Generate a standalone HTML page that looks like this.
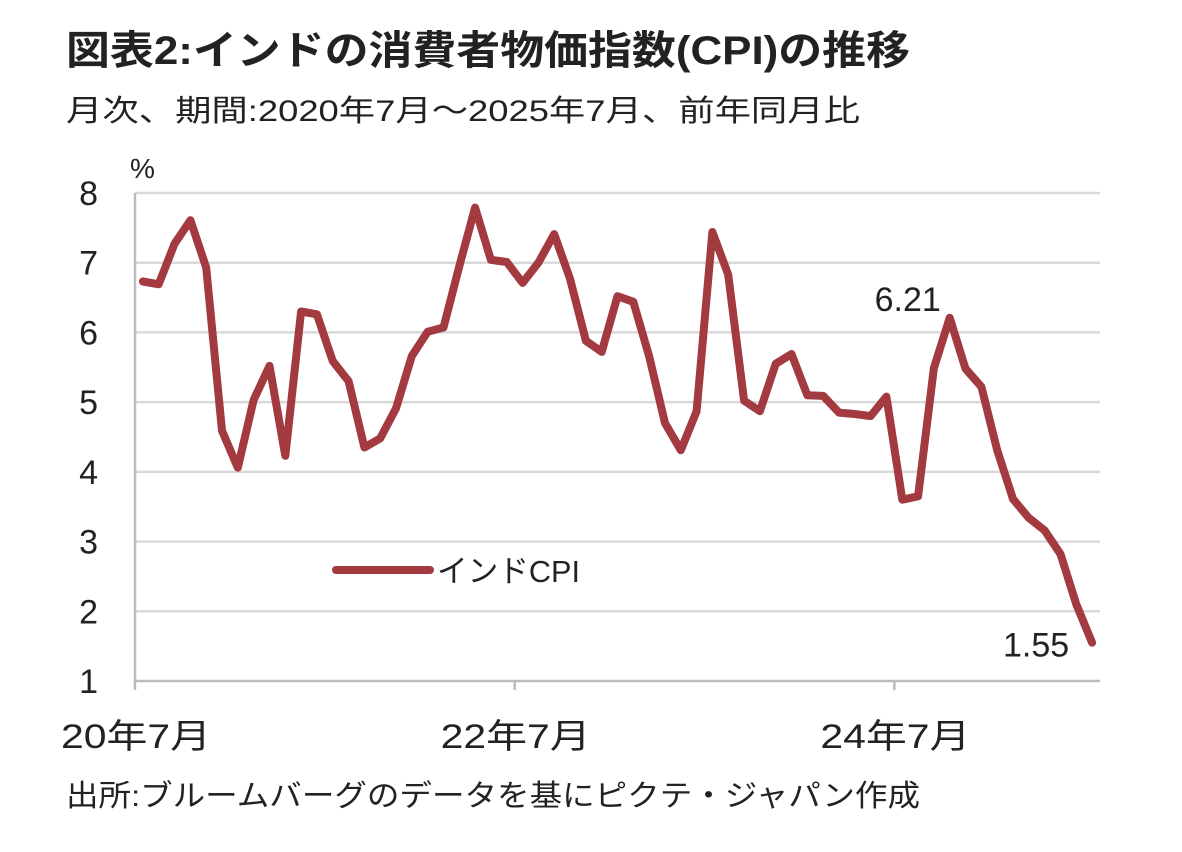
<!DOCTYPE html>
<html><head><meta charset="utf-8"><style>
body{margin:0;background:#fff;}
svg text{font-family:"Liberation Sans","Noto Sans CJK JP",sans-serif;fill:#222;}
</style></head><body>
<svg width="1182" height="847" viewBox="0 0 1182 847" xmlns="http://www.w3.org/2000/svg">
<text x="66" y="64" font-size="40" font-weight="bold" fill="#333" textLength="844" lengthAdjust="spacingAndGlyphs">図表2:インドの消費者物価指数(CPI)の推移</text>
<text x="66" y="121" font-size="30" fill="#444" textLength="794" lengthAdjust="spacingAndGlyphs">月次、期間:2020年7月～2025年7月、前年同月比</text>
<text x="130" y="178" font-size="28">%</text>
<g id="grid"></g>
<g id="yt"></g>
<g id="xt"></g>
<path id="ln" fill="none" stroke="#a23a40" stroke-width="8" stroke-linejoin="round" stroke-linecap="round"/>
<line x1="336" y1="570" x2="430" y2="570" stroke="#a23a40" stroke-width="8" stroke-linecap="round"/>
<text x="437" y="582" font-size="31" textLength="143" lengthAdjust="spacingAndGlyphs">インドCPI</text>
<text id="lab1" font-size="34" text-anchor="middle"></text>
<text id="lab2" font-size="34" text-anchor="middle"></text>
<text x="66" y="806" font-size="30" fill="#333" textLength="854" lengthAdjust="spacingAndGlyphs">出所:ブルームバーグのデータを基にピクテ・ジャパン作成</text>
</svg>
<script>
const values=[6.73,6.69,7.27,7.61,6.93,4.59,
4.06,5.03,5.52,4.23,6.30,6.26,5.59,5.30,4.35,4.48,4.91,5.66,
6.01,6.07,6.95,7.79,7.04,7.01,6.71,7.00,7.41,6.77,5.88,5.72,
6.52,6.44,5.66,4.70,4.31,4.87,7.44,6.83,5.02,4.87,5.55,5.69,
5.10,5.09,4.85,4.83,4.80,5.08,3.60,3.65,5.49,6.21,5.48,5.22,
4.31,3.61,3.34,3.16,2.82,2.10,1.55];
const yTicks=[1,2,3,4,5,6,7,8];
const xTickIdx=[0,24,48];
const xTickLabels=["20年7月","22年7月","24年7月"];
const L=135,R=1100,T=193,B=681,ymin=1,ymax=8;
const w=(R-L)/values.length;
const X=i=>L+(i+0.5)*w, B0=i=>L+i*w;
const Y=v=>B-(v-ymin)/(ymax-ymin)*(B-T);
const ns="http://www.w3.org/2000/svg";
const g=document.getElementById('grid'),yt=document.getElementById('yt'),xt=document.getElementById('xt');
yTicks.forEach(v=>{
 if(v>ymin){const l=document.createElementNS(ns,'line');
 l.setAttribute('x1',L);l.setAttribute('x2',R);l.setAttribute('y1',Y(v));l.setAttribute('y2',Y(v));
 l.setAttribute('stroke','#d9d9d9');l.setAttribute('stroke-width','2.5');
 
 
 g.appendChild(l);}
 const t=document.createElementNS(ns,'text');
 t.setAttribute('x',98);t.setAttribute('y',Y(v)+12);t.setAttribute('font-size','34');t.setAttribute('text-anchor','end');
 t.textContent=v;
 
 
 yt.appendChild(t);
});
const ax=document.createElementNS(ns,'path');
ax.setAttribute('d',`M${L},${T} V${B} H${R}`);ax.setAttribute('stroke','#bbb');ax.setAttribute('stroke-width','2.5');ax.setAttribute('fill','none');


g.appendChild(ax);
xTickIdx.forEach((idx,k)=>{
 const x=B0(idx);
 const l=document.createElementNS(ns,'line');
 l.setAttribute('x1',x);l.setAttribute('x2',x);l.setAttribute('y1',B);l.setAttribute('y2',B+9);
 l.setAttribute('stroke','#bbb');l.setAttribute('stroke-width','2.5');
 
 
 xt.appendChild(l);
 const t=document.createElementNS(ns,'text');
 t.setAttribute('x',x-74);t.setAttribute('y',748);t.setAttribute('font-size','34');
 t.setAttribute('textLength','150');t.setAttribute('lengthAdjust','spacingAndGlyphs');
 t.textContent=xTickLabels[k];
 
 
 xt.appendChild(t);
});
document.getElementById('ln').setAttribute('d',values.map((v,i)=>(i?'L':'M')+X(i).toFixed(1)+','+Y(v).toFixed(1)).join(' '));
let pk=51;
const l1=document.getElementById('lab1');l1.setAttribute('x',X(pk)-42);l1.setAttribute('y',Y(values[pk])-7);l1.textContent=values[pk].toFixed(2);
let ls=values.length-1;
const l2=document.getElementById('lab2');l2.setAttribute('x',X(ls)-56);l2.setAttribute('y',Y(values[ls])+14);l2.textContent=values[ls].toFixed(2);
</script>
</body></html>
